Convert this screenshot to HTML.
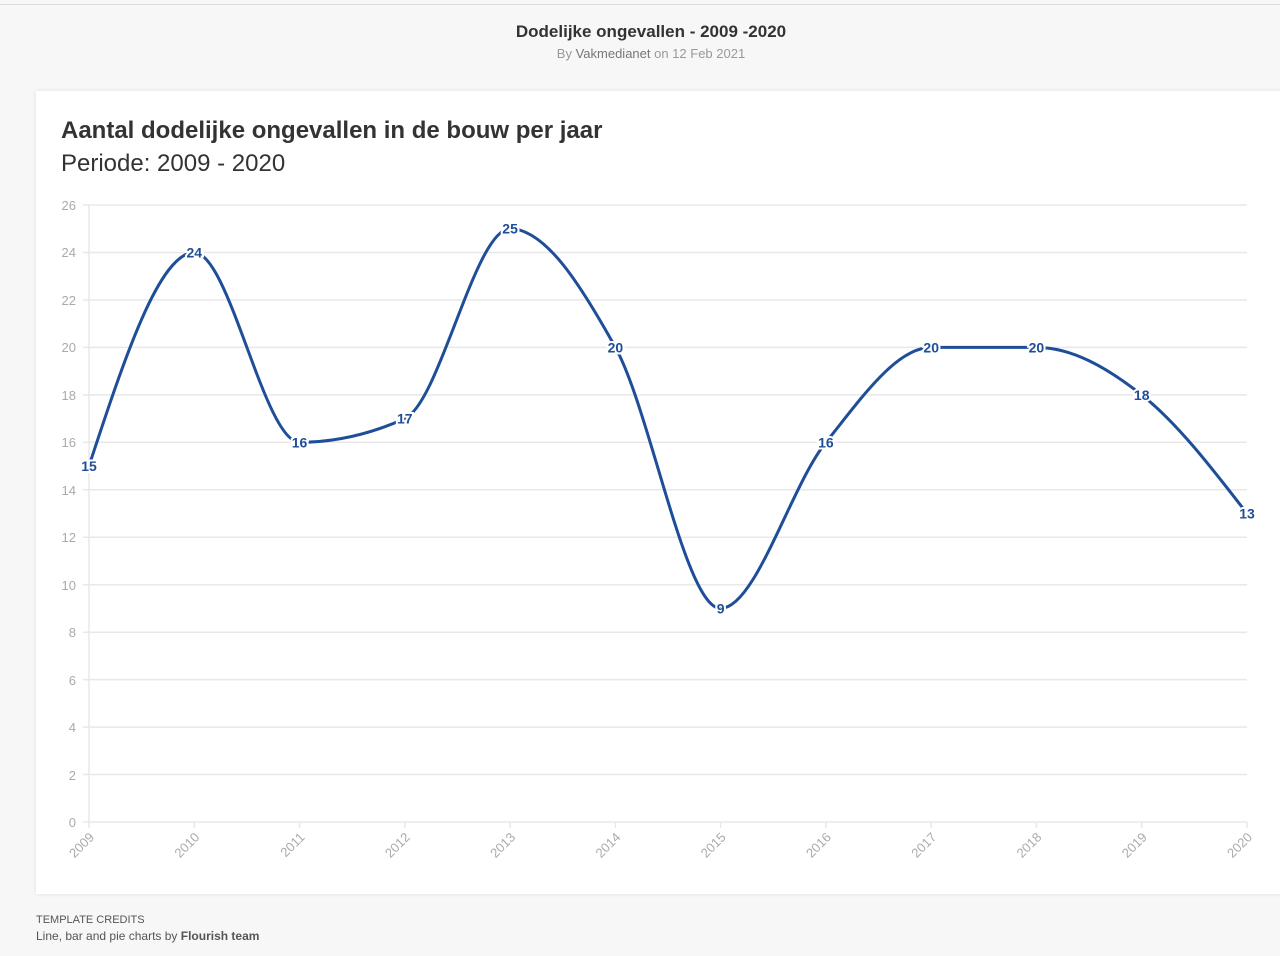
<!DOCTYPE html>
<html><head><meta charset="utf-8"><style>
body{margin:0;width:1280px;height:956px;background:#f7f7f7;font-family:"Liberation Sans",sans-serif;position:relative;overflow:hidden}
.top{position:absolute;left:0;top:4px;width:1280px;height:1px;background:#ddd}
.h{position:absolute;top:22px;left:0;width:1302px;text-align:center;font-size:17px;font-weight:bold;color:#333}
.s{position:absolute;top:46px;left:0;width:1302px;text-align:center;font-size:13px;color:#999}
.s b{color:#777;font-weight:normal}
.card{position:absolute;left:36px;top:91px;width:1260px;height:803px;background:#fff;box-shadow:0 0 4px rgba(0,0,0,.1)}
.t1{position:absolute;left:61px;top:117px;font-size:24px;font-weight:bold;color:#333}
.t2{position:absolute;left:61px;top:150px;font-size:24px;color:#333}
.c1{position:absolute;left:36px;top:914px;font-size:11px;color:#555}
.c2{position:absolute;left:36px;top:929px;font-size:12px;color:#555}
svg{position:absolute;left:0;top:0}
</style></head><body>
<div class="top"></div>
<div class="h">Dodelijke ongevallen - 2009 -2020</div>
<div class="s">By <b>Vakmedianet</b> on 12 Feb 2021</div>
<div class="card"></div>
<div class="t1">Aantal dodelijke ongevallen in de bouw per jaar</div>
<div class="t2">Periode: 2009 - 2020</div>
<div class="c1">TEMPLATE CREDITS</div>
<div class="c2">Line, bar and pie charts by <b>Flourish team</b></div>
<svg width="1280" height="956" font-family="Liberation Sans, sans-serif">
<g stroke="#e8e8e8" stroke-width="1.5">
<line x1="83" x2="1247" y1="205" y2="205"/><line x1="83" x2="1247" y1="252.5" y2="252.5"/><line x1="83" x2="1247" y1="300" y2="300"/><line x1="83" x2="1247" y1="347.4" y2="347.4"/><line x1="83" x2="1247" y1="394.9" y2="394.9"/><line x1="83" x2="1247" y1="442.3" y2="442.3"/><line x1="83" x2="1247" y1="489.8" y2="489.8"/><line x1="83" x2="1247" y1="537.2" y2="537.2"/><line x1="83" x2="1247" y1="584.7" y2="584.7"/><line x1="83" x2="1247" y1="632.2" y2="632.2"/><line x1="83" x2="1247" y1="679.6" y2="679.6"/><line x1="83" x2="1247" y1="727.1" y2="727.1"/><line x1="83" x2="1247" y1="774.5" y2="774.5"/><line x1="83" x2="1247" y1="822" y2="822"/>
<line x1="89" x2="89" y1="205" y2="828"/>
<line x1="194.3" x2="194.3" y1="822" y2="828"/><line x1="299.5" x2="299.5" y1="822" y2="828"/><line x1="404.8" x2="404.8" y1="822" y2="828"/><line x1="510.1" x2="510.1" y1="822" y2="828"/><line x1="615.4" x2="615.4" y1="822" y2="828"/><line x1="720.6" x2="720.6" y1="822" y2="828"/><line x1="825.9" x2="825.9" y1="822" y2="828"/><line x1="931.2" x2="931.2" y1="822" y2="828"/><line x1="1036.4" x2="1036.4" y1="822" y2="828"/><line x1="1141.7" x2="1141.7" y1="822" y2="828"/><line x1="1247" x2="1247" y1="822" y2="828"/>
</g>
<g fill="#aaa" font-size="13" text-anchor="end">
<text x="76" y="210">26</text><text x="76" y="257">24</text><text x="76" y="305">22</text><text x="76" y="352">20</text><text x="76" y="400">18</text><text x="76" y="447">16</text><text x="76" y="495">14</text><text x="76" y="542">12</text><text x="76" y="590">10</text><text x="76" y="637">8</text><text x="76" y="685">6</text><text x="76" y="732">4</text><text x="76" y="780">2</text><text x="76" y="827">0</text>
</g>
<g fill="#aaa" font-size="13" text-anchor="end">
<text transform="translate(95,838) rotate(-45)">2009</text><text transform="translate(200.3,838) rotate(-45)">2010</text><text transform="translate(305.5,838) rotate(-45)">2011</text><text transform="translate(410.8,838) rotate(-45)">2012</text><text transform="translate(516.1,838) rotate(-45)">2013</text><text transform="translate(621.4,838) rotate(-45)">2014</text><text transform="translate(726.6,838) rotate(-45)">2015</text><text transform="translate(831.9,838) rotate(-45)">2016</text><text transform="translate(937.2,838) rotate(-45)">2017</text><text transform="translate(1042.4,838) rotate(-45)">2018</text><text transform="translate(1147.7,838) rotate(-45)">2019</text><text transform="translate(1253,838) rotate(-45)">2020</text>
</g>
<path fill="none" stroke="#1f4e99" stroke-width="3" d="M89,466 C124.1,359.3 159.2,252.5 194.3,252.5 C229.4,252.5 264.4,442.3 299.5,442.3 C334.6,442.3 369.7,434.4 404.8,418.6 C439.9,402.8 475,228.7 510.1,228.7 C545.2,228.7 580.3,284.1 615.4,347.4 C650.5,410.7 685.5,608.4 720.6,608.4 C755.7,608.4 790.8,485.8 825.9,442.3 C861,398.8 896.1,347.4 931.2,347.4 C966.3,347.4 1001.3,347.4 1036.4,347.4 C1071.5,347.4 1106.6,367.2 1141.7,394.9 C1176.8,422.6 1211.9,468 1247,513.5"/>
<g fill="#1f4e99" font-size="14" font-weight="bold" text-anchor="middle" stroke="#fff" stroke-width="4" paint-order="stroke">
<text x="89" y="471">15</text><text x="194.3" y="257.5">24</text><text x="299.5" y="447.3">16</text><text x="404.8" y="423.6">17</text><text x="510.1" y="233.7">25</text><text x="615.4" y="352.4">20</text><text x="720.6" y="613.4">9</text><text x="825.9" y="447.3">16</text><text x="931.2" y="352.4">20</text><text x="1036.4" y="352.4">20</text><text x="1141.7" y="399.9">18</text><text x="1247" y="518.5">13</text>
</g>
</svg>
</body></html>
